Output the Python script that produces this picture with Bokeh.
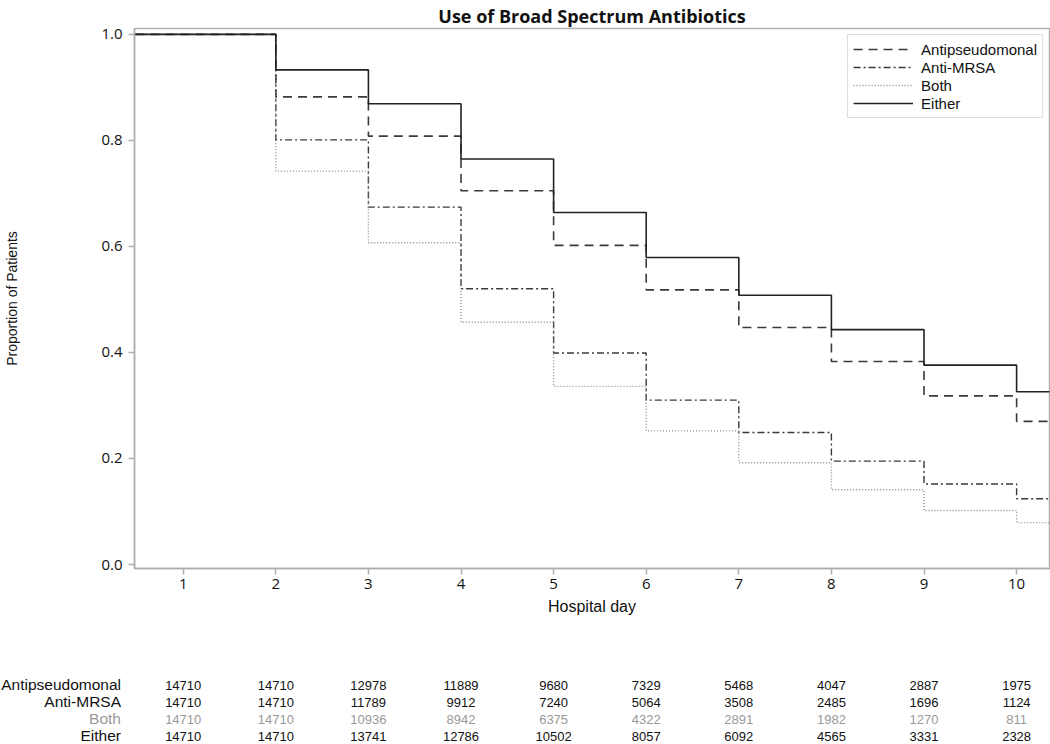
from bokeh.plotting import figure
from bokeh.models import Range1d, ColumnDataSource, FixedTicker, Legend, LegendItem, NumeralTickFormatter, Div
from bokeh.layouts import column, row
from bokeh.core.properties import value
from bokeh.embed import file_html
from bokeh.resources import INLINE

# ---------------- data ----------------
title = "Use of Broad Spectrum Antibiotics"
days = [1, 2, 3, 4, 5, 6, 7, 8, 9, 10]
series_names = ["Antipseudomonal", "Anti-MRSA", "Both", "Either"]
antipseudomonal = [1.0, 0.882, 0.808, 0.705, 0.602, 0.518, 0.447, 0.383, 0.318, 0.270]
anti_mrsa = [1.0, 0.801, 0.674, 0.520, 0.399, 0.310, 0.249, 0.195, 0.152, 0.124]
both = [1.0, 0.742, 0.607, 0.457, 0.336, 0.252, 0.192, 0.141, 0.102, 0.079]
either = [1.0, 0.933, 0.869, 0.765, 0.664, 0.579, 0.508, 0.443, 0.376, 0.326]

antipseudomonal_n = [14710, 14710, 12978, 11889, 9680, 7329, 5468, 4047, 2887, 1975]
anti_mrsa_n = [14710, 14710, 11789, 9912, 7240, 5064, 3508, 2485, 1696, 1124]
both_n = [14710, 14710, 10936, 8942, 6375, 4322, 2891, 1982, 1270, 811]
either_n = [14710, 14710, 13741, 12786, 10502, 8057, 6092, 4565, 3331, 2328]

y_ticks = [0.0, 0.2, 0.4, 0.6, 0.8, 1.0]

# ---------------- layout ----------------
W = 1050
MAIN_H = 640
TABLE_H = 104
BL, BR, BT, BB = 134, 1, 28, 72
PPD = 92.6                      # pixels per hospital day
X0 = 0.474
X1 = X0 + (W - BL - BR) / PPD
Y0, Y1 = -0.0075, 1.011

AXC = "#b0b0b0"
LINEC = "#3a3a3a"

p = figure(width=W, height=MAIN_H, output_backend="svg", toolbar_location=None,
           x_range=Range1d(X0, X1), y_range=Range1d(Y0, Y1),
           min_border_left=BL, min_border_right=BR, min_border_top=BT, min_border_bottom=BB,
           title=title)
p.title.align = "center"
p.title.vertical_align = "bottom"
p.title.text_font = "Open Sans"
p.title.text_font_size = "18px"
p.title.text_font_style = "bold"
p.title.text_color = "#111111"
p.title.standoff = 2
p.title.offset = 0
p.outline_line_color = AXC
p.outline_line_width = 1.5
p.grid.visible = False
p.background_fill_color = "white"
p.border_fill_color = "white"

p.xaxis.ticker = FixedTicker(ticks=days)
p.yaxis.ticker = FixedTicker(ticks=y_ticks)
p.yaxis.formatter = NumeralTickFormatter(format="0.0")
for ax in (p.xaxis[0], p.yaxis[0]):
    ax.axis_line_color = AXC
    ax.axis_line_width = 1.5
    ax.major_tick_line_color = AXC
    ax.major_tick_line_width = 1.5
    ax.major_tick_out = 6
    ax.major_tick_in = 0
    ax.minor_tick_line_color = None
    ax.major_label_text_font = "Open Sans"
    ax.major_label_text_font_size = "15px"
    ax.major_label_text_color = "#111111"
    ax.axis_label_text_font = "Liberation Sans"
    ax.axis_label_text_font_style = "normal"
    ax.axis_label_text_color = "#111111"
p.xaxis.axis_label = "Hospital day"
p.xaxis.axis_label_text_font_size = "16px"
p.xaxis.major_label_standoff = 4
p.xaxis.axis_label_standoff = 6
p.yaxis.axis_label = "Proportion of Patients"
p.yaxis.axis_label_text_font_size = "14px"
p.yaxis.major_label_standoff = 6
p.yaxis.axis_label_standoff = 78

styles = {
    "Antipseudomonal": dict(line_color=LINEC, line_width=1.6, line_dash="9 6"),
    "Anti-MRSA": dict(line_color=LINEC, line_width=1.4, line_dash="7 3 2 3"),
    "Both": dict(line_color="#8c8c8c", line_width=1.4, line_dash="1 2"),
    "Either": dict(line_color="#222222", line_width=1.6, line_dash="solid"),
}
series_vals = {"Antipseudomonal": antipseudomonal, "Anti-MRSA": anti_mrsa,
               "Both": both, "Either": either}

items = []
for name in series_names:
    vals = series_vals[name]
    xs = [0] + days + [days[-1] + 1]
    ys = [vals[0]] + vals + [vals[-1]]
    r = p.step(xs, ys, mode="after", **styles[name])
    items.append(LegendItem(label=name, renderers=[r]))

leg = Legend(items=items, location="top_right")
leg.margin = 6
leg.padding = 5
leg.spacing = 0
leg.label_height = 18
leg.glyph_height = 18
leg.glyph_width = 60
leg.label_standoff = 8
leg.label_text_font = "Liberation Sans"
leg.label_text_font_size = "15px"
leg.label_text_color = "#111111"
leg.border_line_color = "#bdbdbd"
leg.border_line_width = 1.5
leg.background_fill_alpha = 1.0
p.add_layout(leg, "center")

# ---------------- at-risk table ----------------
ROW0, ROWSTEP = 45, 17.0   # first row centre and row spacing in table pixels
row_colors = ["#111111", "#111111", "#999999", "#111111"]

t = figure(width=W - BL, height=TABLE_H, output_backend="svg", toolbar_location=None,
           x_range=p.x_range,
           y_range=Range1d((TABLE_H - ROW0) / ROWSTEP, -ROW0 / ROWSTEP),
           x_axis_type=None, y_axis_type=None,
           min_border_left=0, min_border_right=BR, min_border_top=0, min_border_bottom=0)
t.outline_line_color = None
t.grid.visible = False
t.background_fill_color = "white"
t.border_fill_color = "white"

counts = [antipseudomonal_n, anti_mrsa_n, both_n, either_n]
xs, ys, txt, cols = [], [], [], []
for i, cnt in enumerate(counts):
    for d, n in zip(days, cnt):
        xs.append(d)
        ys.append(i)
        txt.append(str(n))
        cols.append(row_colors[i])
t.text(x="x", y="y", text="t", text_color="c",
       source=ColumnDataSource(dict(x=xs, y=ys, t=txt, c=cols)),
       text_font=value("Liberation Sans"), text_font_size=value("13px"),
       text_align="center", text_baseline="middle")

# row labels of the table, right-aligned left of the plot frame
LINE_H = 18
parts = []
for i, name in enumerate(series_names):
    top = ROW0 + i * ROWSTEP - LINE_H / 2
    parts.append(
        f'<div style="position:absolute;right:13px;top:{top:.1f}px;line-height:{LINE_H}px;'
        f'white-space:nowrap;color:{row_colors[i]};">{name}</div>')
labels_html = (f'<div style="position:relative;width:{BL}px;height:{TABLE_H}px;'
               f'font-family:\'Liberation Sans\';font-size:15.5px;">' + "".join(parts) + '</div>')
labels = Div(text=labels_html, width=BL, height=TABLE_H, margin=0)

layout = column(p, row(labels, t, spacing=0), spacing=0)
open("out.html", "w").write(file_html(layout, INLINE))
